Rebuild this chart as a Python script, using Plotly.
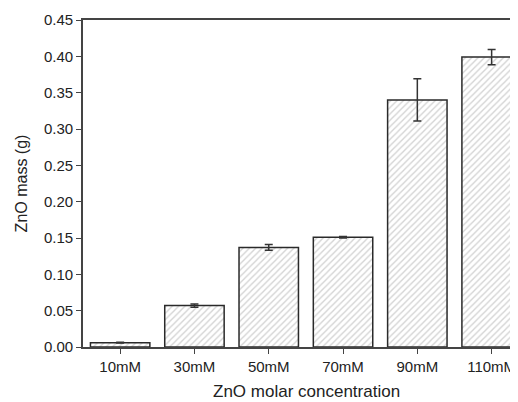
import plotly.graph_objects as go

categories = ["10mM", "30mM", "50mM", "70mM", "90mM", "110mM"]
mass = [0.006, 0.057, 0.137, 0.151, 0.340, 0.399]
mass_err = [0.0005, 0.0022, 0.004, 0.001, 0.029, 0.0105]

fig = go.Figure()
fig.add_trace(go.Bar(
    x=categories, y=mass,
    error_y=dict(type="data", array=mass_err, visible=True, color="#333333", thickness=1.5, width=4),
    marker=dict(color="white", line=dict(color="#2a2a2a", width=1.5),
                pattern=dict(shape="/", fgcolor="#a8a8a8", bgcolor="white", size=4.5, solidity=0.3)),
))

# page body adds an 8px offset; figure is sized to the visible area
fig.update_layout(
    width=510, height=394,
    margin=dict(l=75, r=0, t=12, b=55),
    paper_bgcolor="white", plot_bgcolor="white",
    bargap=0.2, showlegend=False,
    font=dict(family="Liberation Sans, Arial, sans-serif", size=15, color="#222222"),
    annotations=[dict(text="ZnO molar concentration", xref="paper", yref="paper",
                      x=0.514, y=-0.137, xanchor="center", yanchor="middle",
                      showarrow=False, font=dict(size=17))],
)
fig.update_xaxes(
    type="category", range=[-0.5, 5.355],
    showline=True, linecolor="#444444", linewidth=1.6, mirror=True,
    ticks="outside", ticklen=5, tickcolor="#444444", tickwidth=1.2,
    showgrid=False, automargin=False,
)
fig.update_yaxes(
    range=[0, 0.45], dtick=0.05, tickformat=".2f",
    showline=True, linecolor="#444444", linewidth=1.6, mirror=False,
    ticks="outside", ticklen=5, tickcolor="#444444", tickwidth=1.2,
    showgrid=False, zeroline=False, automargin=False,
    title=dict(text="ZnO mass (g)", font=dict(size=16), standoff=12),
)

fig.write_html("out.html")
